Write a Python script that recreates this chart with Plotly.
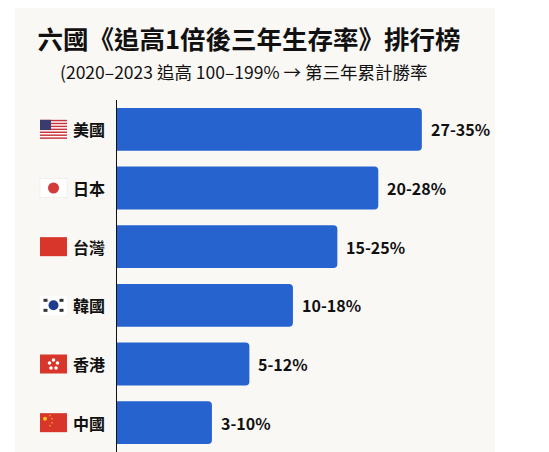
import plotly.graph_objects as go

# chart data
countries = ["美國", "日本", "台灣", "韓國", "香港", "中國"]
flag_codes = ["us", "jp", "tw", "kr", "hk", "cn"]
survival_labels = ["27-35%", "20-28%", "15-25%", "10-18%", "5-12%", "3-10%"]
bar_scores = [35, 30, 25.3, 20.2, 15.2, 10.9]

title_text = "六國《追高1倍後三年生存率》排行榜"
subtitle_text = "(2020–2023 追高 100–199% → 第三年累計勝率"

# the page body has an 8px margin, so the figure is drawn at (8, 8)
OFF = 8
W, H = 549 - OFF, 452 - OFF
L, R, T, B = 117 - OFF, 0, 100 - OFF, 0
plot_w = W - L - R
plot_h = H - T - B
row_px = plot_h / len(countries)

FONT = "Noto Sans CJK TC, Noto Sans, sans-serif"
BAR_BLUE = "#2663cf"
BG = "#faf8f4"
INK = "#111111"


def px(x):
    # page pixel -> paper x
    return (x - OFF - L) / plot_w


def py(y):
    # page pixel -> paper y
    return 1 - (y - OFF - T) / plot_h


def dy(p):
    # pixel height -> category units
    return p / row_px


def rect(x0, x1, yc, h, color, line=None):
    return dict(type="rect", xref="paper", yref="y",
                x0=px(x0), x1=px(x1), y0=yc - dy(h) / 2, y1=yc + dy(h) / 2,
                fillcolor=color, line=dict(width=0) if line is None else line,
                layer="above")


def circle(cx, yc, d, color):
    return dict(type="circle", xref="paper", yref="y",
                x0=px(cx - d / 2), x1=px(cx + d / 2),
                y0=yc - dy(d) / 2, y1=yc + dy(d) / 2,
                fillcolor=color, line=dict(width=0), layer="above")


def flag_shapes(code, i):
    fx0, fx1, fh = 40, 67, 19
    cx = (fx0 + fx1) / 2
    out = []
    if code == "us":
        out.append(rect(fx0, fx1, i, fh, "#ffffff"))
        stripe = fh / 13
        top = i - dy(fh) / 2
        for s in range(0, 13, 2):
            y0 = top + dy(stripe * s)
            out.append(dict(type="rect", xref="paper", yref="y",
                            x0=px(fx0), x1=px(fx1), y0=y0, y1=y0 + dy(stripe),
                            fillcolor="#c8323a", line=dict(width=0), layer="above"))
        out.append(dict(type="rect", xref="paper", yref="y",
                        x0=px(fx0), x1=px(fx0 + 11), y0=top, y1=top + dy(stripe * 7),
                        fillcolor="#3c3b6e", line=dict(width=0), layer="above"))
    elif code == "jp":
        out.append(rect(fx0, fx1, i, fh, "#ffffff", dict(width=0.5, color="#e6e4e0")))
        out.append(circle(cx, i, 11, "#d33a3a"))
    elif code == "tw":
        out.append(rect(fx0, fx1, i, fh, "#d8362a"))
    elif code == "kr":
        out.append(rect(fx0, fx1, i, fh, "#ffffff"))
        out.append(circle(cx, i, 10, "#1f3d8f"))
        out.append(dict(type="path", xref="paper", yref="y", layer="above",
                        path=f"M {px(cx - 5)},{i} A 1 1 0 0 1 {px(cx + 5)},{i} Z",
                        fillcolor="#cd2e3a", line=dict(width=0)))
        for ox, oy in [(-8, -5), (8, -5), (-8, 5), (8, 5)]:
            out.append(rect(cx + ox - 2, cx + ox + 2, i + dy(oy), 3, "#333333"))
    elif code == "hk":
        out.append(rect(fx0, fx1, i, fh, "#d8362a"))
        for ox, oy in [(0, -4), (4, -1), (2.5, 4), (-2.5, 4), (-4, -1)]:
            out.append(circle(cx + ox, i + dy(oy), 3.6, "#ffffff"))
    elif code == "cn":
        out.append(rect(fx0, fx1, i, fh, "#d8362a"))
        out.append(circle(fx0 + 5, i - dy(4), 4, "#f5c518"))
        for ox, oy in [(10, -7), (12, -4), (12, 0), (10, 3)]:
            out.append(circle(fx0 + ox, i + dy(oy), 1.5, "#f5c518"))
    return out


fig = go.Figure(
    go.Bar(
        x=bar_scores,
        y=countries,
        orientation="h",
        marker=dict(color=BAR_BLUE, cornerradius=4, line=dict(width=0)),
        hoverinfo="skip",
    )
)

shapes = [
    # white strips outside the card
    dict(type="rect", xref="paper", yref="paper", x0=px(-20), x1=px(15), y0=-0.01, y1=1.3,
         fillcolor="#ffffff", line=dict(width=0), layer="below"),
    dict(type="rect", xref="paper", yref="paper", x0=px(495), x1=px(560), y0=-0.01, y1=1.3,
         fillcolor="#ffffff", line=dict(width=0), layer="below"),
]
annotations = []
for i, (name, code, lab, val) in enumerate(zip(countries, flag_codes, survival_labels, bar_scores)):
    shapes += flag_shapes(code, i)
    annotations.append(dict(x=0, xref="paper", y=name, yref="y", text="<b>" + name + "</b>",
                            xanchor="right", xshift=-10, showarrow=False,
                            font=dict(family=FONT, size=16, color=INK)))
    annotations.append(dict(x=val, xref="x", y=name, yref="y", text="<b>" + lab + "</b>",
                            xanchor="left", xshift=7, showarrow=False,
                            font=dict(family=FONT, size=16, color=INK)))

annotations.append(dict(x=px(243), xref="paper", y=py(72), yref="paper",
                        text=subtitle_text, showarrow=False,
                        xanchor="center", yanchor="middle",
                        font=dict(family=FONT, size=17.5, color=INK)))

fig.update_layout(
    width=W,
    height=H,
    margin=dict(l=L, r=R, t=T, b=B),
    paper_bgcolor=BG,
    plot_bgcolor=BG,
    showlegend=False,
    bargap=0.27,
    title=dict(text="<b>" + title_text + "</b>", x=(249 - OFF) / W, xanchor="center",
               y=1 - (40 - OFF) / H, yanchor="middle",
               font=dict(family=FONT, size=25.5, color=INK)),
    xaxis=dict(range=[0, 49.6], visible=False, fixedrange=True),
    yaxis=dict(autorange="reversed", showticklabels=False, ticks="",
               showgrid=False, zeroline=False, showline=True,
               linecolor=INK, linewidth=1.2, fixedrange=True),
    shapes=shapes,
    annotations=annotations,
)

fig.write_html("out.html")
